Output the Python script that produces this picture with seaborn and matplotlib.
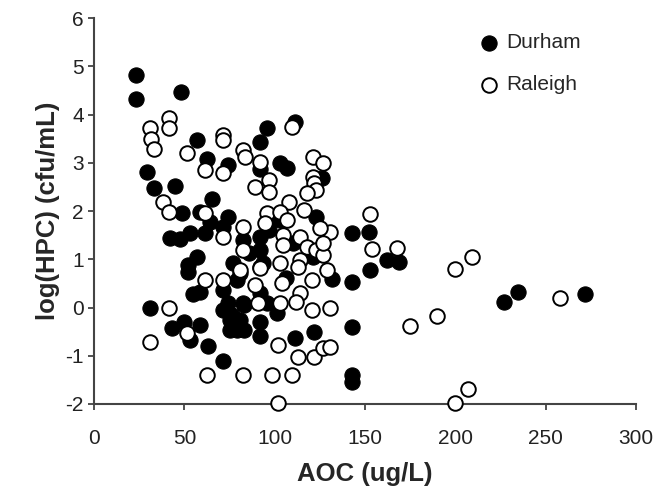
import numpy as np
import pandas as pd
import matplotlib
matplotlib.use('Agg')
import matplotlib.pyplot as plt
import seaborn as sns

# Durham (filled circles): AOC (ug/L), log(HPC)
durham_aoc = [23, 23, 48, 57, 62.5, 29, 33, 45, 65, 74, 96, 92, 103, 107, 111, 126,
              48.7, 42, 47.6, 53, 61.5, 58.6, 64, 74, 71.4, 52, 57, 82.5, 77, 31,
              55, 52, 43, 50, 58.6, 53, 63, 71.4, 74, 76.5, 83, 83, 75, 123, 143,
              92, 86, 110, 121, 81, 92, 132, 143, 81, 92, 92, 101, 111, 122, 143,
              143, 143, 82.5, 92, 152, 153, 162, 169, 227, 235, 272, 92, 93.5, 79,
              71.4, 71.4, 75, 79, 103, 58.6, 92, 97, 106, 96]
durham_hpc = [4.82, 4.33, 4.47, 3.47, 3.08, 2.80, 2.48, 2.52, 2.25, 2.95, 3.72, 3.43, 3.0, 2.9, 3.85, 2.68,
              1.96, 1.44, 1.42, 1.54, 1.54, 1.98, 1.77, 1.88, 1.67, 0.88, 1.05, 1.40, 0.92, 0.0,
              0.29, 0.74, -0.42, -0.3, -0.36, -0.67, -0.80, -1.10, 0.10, -0.15, 0.05, -0.47, -0.47, 1.88, 1.55,
              1.46, 1.13, 1.34, 1.05, 0.72, 0.84, 0.60, 0.53, -0.26, -0.60, -0.30, -0.12, -0.63, -0.50, -0.40,
              -1.40, -1.55, 0.10, 0.30, 1.56, 0.78, 0.98, 0.95, 0.12, 0.33, 0.27, 1.19, 0.92, 0.57,
              0.36, -0.05, -0.26, -0.47, 1.82, 0.32, 2.88, 1.60, 0.62, 0.10]

# Raleigh (open circles)
raleigh_aoc = [31, 31.5, 33, 41.5, 41.5, 51.5, 71.4, 71.4, 61.5, 71.4, 38, 41.5, 61.5, 71.4, 61.5,
               71.4, 41.5, 51.5, 31, 62.5, 82.5, 83.5, 92, 109.6, 121, 127, 89, 97, 97, 121,
               122, 123, 118, 108, 82.5, 96, 103, 107, 116, 94.6, 130.6, 125, 104.6, 82.5, 104.6,
               114, 118, 123, 127, 103, 114, 92, 113, 129, 89, 104, 114, 120.6, 112, 91,
               103, 120.6, 130.6, 102, 113, 122, 127, 130.6, 82.5, 98.5, 109.6, 102, 153, 154, 168,
               200, 209, 258, 175, 190, 207, 200, 81, 127]
raleigh_hpc = [3.72, 3.50, 3.28, 3.93, 3.72, 3.20, 3.57, 3.47, 2.85, 2.79, 2.19, 1.98, 1.96, 1.46, 0.57,
               0.57, 0.0, -0.53, -0.72, -1.40, 3.26, 3.12, 3.02, 3.74, 3.12, 3.0, 2.50, 2.64, 2.40, 2.70,
               2.58, 2.43, 2.37, 2.19, 1.67, 1.96, 1.98, 1.82, 2.02, 1.75, 1.57, 1.65, 1.50, 1.19, 1.30,
               1.46, 1.25, 1.19, 1.09, 0.92, 0.98, 0.82, 0.84, 0.78, 0.47, 0.51, 0.30, 0.57, 0.11, 0.09,
               0.09, -0.05, 0.0, -0.78, -1.02, -1.02, -0.84, -0.82, -1.40, -1.40, -1.40, -1.98, 1.94, 1.22, 1.23,
               0.80, 1.05, 0.20, -0.38, -0.18, -1.70, -1.98, 0.78, 1.33]

sns.set_style('ticks')
plt.rcParams['font.family'] = ['Liberation Sans', 'DejaVu Sans']
plt.rcParams['axes.unicode_minus'] = False

fig = plt.figure(figsize=(6.63, 4.92), dpi=100)
ax = fig.add_axes([0.142, 0.179, 0.817, 0.784])

sns.scatterplot(x=durham_aoc, y=durham_hpc, color='black', edgecolor='black',
                s=120, linewidth=0.8, label='Durham', ax=ax, zorder=3)
sns.scatterplot(x=raleigh_aoc, y=raleigh_hpc, color='white', edgecolor='black',
                s=110, linewidth=1.4, label='Raleigh', ax=ax, zorder=4)

ax.set_xlim(0, 300)
ax.set_ylim(-2, 6)
ax.set_xticks(np.arange(0, 301, 50))
ax.set_yticks(np.arange(-2, 7, 1))
ax.tick_params(labelsize=15, length=4, width=1.2, colors='#333333', labelcolor='#222222')
ax.tick_params(axis='x', pad=14)
for side in ['top', 'right']:
    ax.spines[side].set_visible(False)
for side in ['left', 'bottom']:
    ax.spines[side].set_linewidth(1.5)
    ax.spines[side].set_color('#444444')
for coll in ax.collections:
    coll.set_clip_on(False)

ax.set_xlabel('AOC (ug/L)', fontsize=18.5, fontweight='bold', labelpad=10)
ax.set_ylabel('log(HPC) (cfu/mL)', fontsize=18.5, fontweight='bold', labelpad=4)

ax.legend(loc='upper left', bbox_to_anchor=(0.695, 0.983), frameon=False,
          fontsize=15, handlelength=1.0, handletextpad=0.3, labelspacing=1.1,
          borderaxespad=0)

fig.savefig('out.png', dpi=100)
